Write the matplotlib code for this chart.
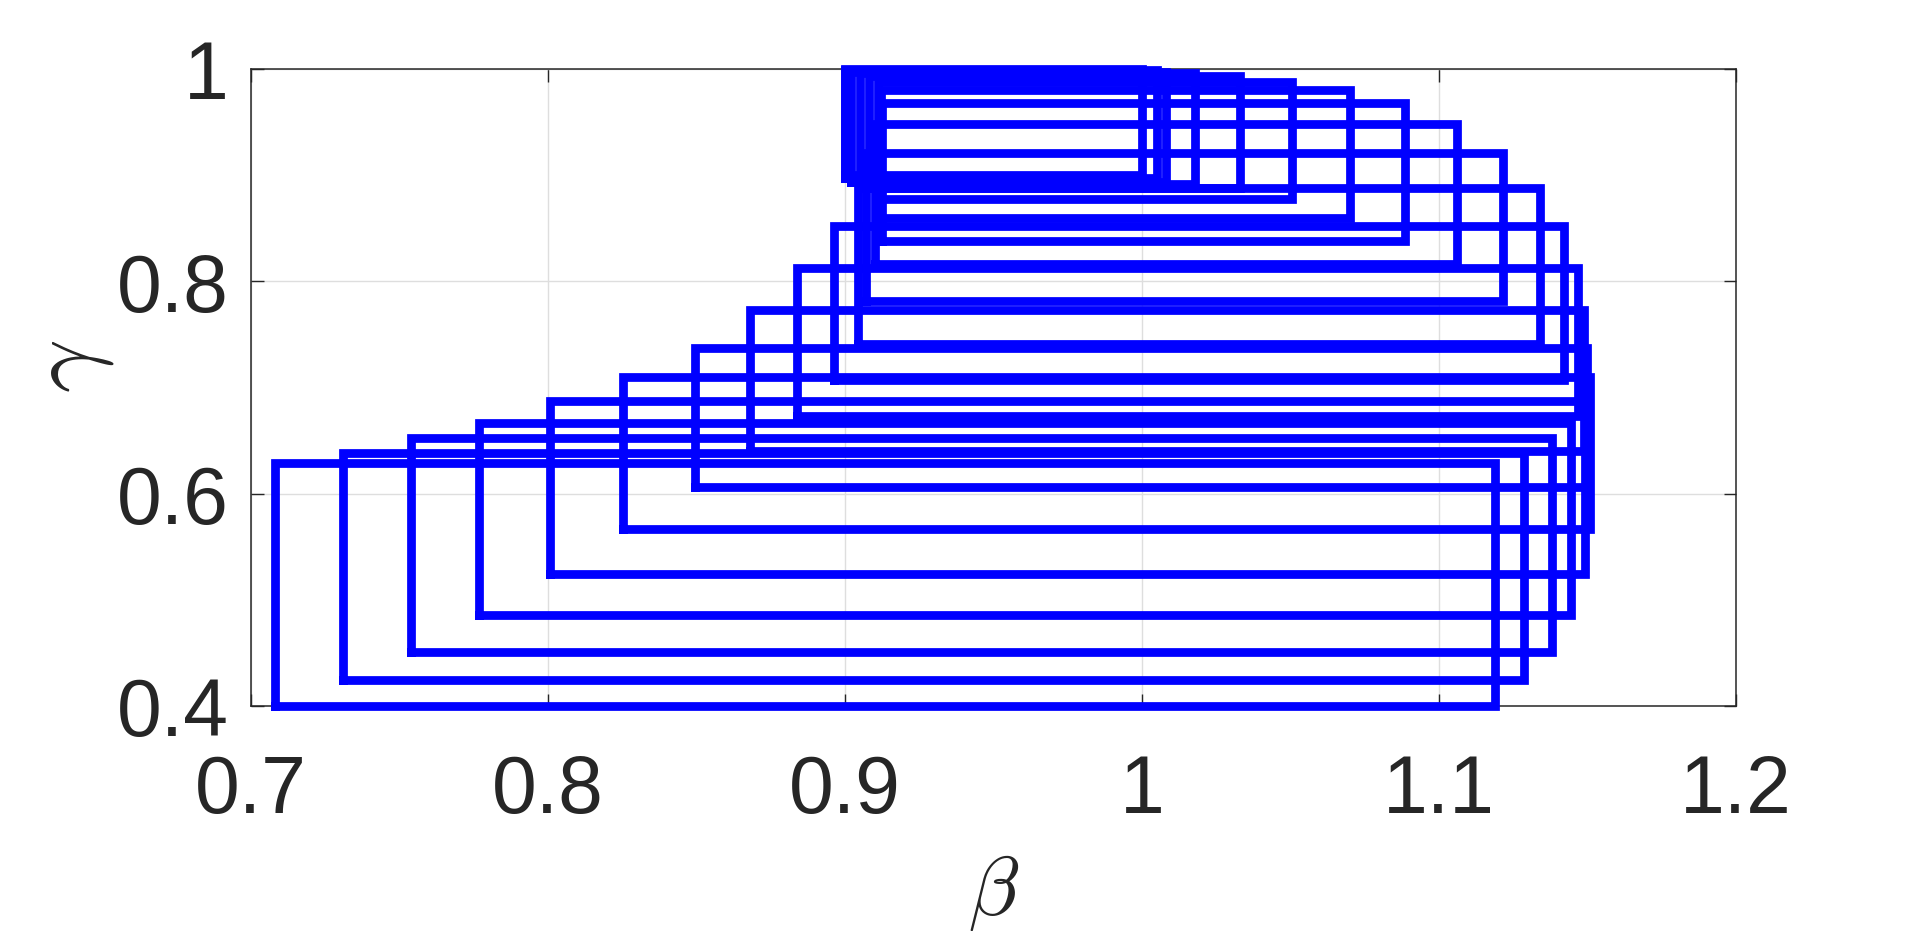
import matplotlib
matplotlib.use("Agg")
import matplotlib.pyplot as plt

# Rectangle bounds (beta range x gamma range), outermost to innermost
beta_lo = [0.708, 0.731, 0.754, 0.7768, 0.8007, 0.8253, 0.8496, 0.8682, 0.8838, 0.8963,
           0.9044, 0.907, 0.910, 0.9125, 0.912, 0.911, 0.908, 0.905, 0.902, 0.900, 0.900]
beta_hi = [1.119, 1.1287, 1.1382, 1.1444, 1.1493, 1.151, 1.150, 1.1489, 1.147, 1.142,
           1.134, 1.1217, 1.106, 1.0887, 1.070, 1.0506, 1.033, 1.018, 1.008, 1.005, 1.000]
gamma_lo = [0.400, 0.4243, 0.4508, 0.4854, 0.524, 0.567, 0.6066, 0.640, 0.6735, 0.707,
            0.741, 0.781, 0.8165, 0.838, 0.860, 0.878, 0.888, 0.892, 0.894, 0.897, 0.900]
gamma_hi = [0.629, 0.638, 0.652, 0.667, 0.687, 0.710, 0.737, 0.7727, 0.813, 0.852,
            0.888, 0.921, 0.948, 0.968, 0.980, 0.988, 0.993, 0.996, 0.9975, 0.999, 1.000]

xticks = [0.7, 0.8, 0.9, 1.0, 1.1, 1.2]
xticklabels = ["0.7", "0.8", "0.9", "1", "1.1", "1.2"]
yticks = [0.4, 0.6, 0.8, 1.0]
yticklabels = ["0.4", "0.6", "0.8", "1"]

plt.rcParams['mathtext.fontset'] = 'cm'
fig = plt.figure(figsize=(19.2, 9.37), dpi=100)
ax = fig.add_axes([0.1307, 0.2455, 0.7734, 0.6798])

for b0, b1, g0, g1 in zip(beta_lo, beta_hi, gamma_lo, gamma_hi):
    ax.plot([b0, b1, b1, b0, b0], [g0, g0, g1, g1, g0], color=(0, 0, 1),
            lw=6.3, clip_on=False, solid_joinstyle='miter', zorder=3)

ax.set_xlim(0.7, 1.2)
ax.set_ylim(0.4, 1.0)
ax.set_xticks(xticks)
ax.set_xticklabels(xticklabels)
ax.set_yticks(yticks)
ax.set_yticklabels(yticklabels)
ax.grid(True, color='#dedede', lw=1.0, zorder=0)
ax.set_axisbelow(True)

for s in ax.spines.values():
    s.set_color('#262626')
    s.set_linewidth(1.1)

ax.tick_params(direction='in', length=9, width=1.0, colors='#262626',
               top=True, right=True, labelsize=58)
ax.tick_params(axis='x', pad=34)
ax.tick_params(axis='y', pad=16)
for lab in ax.get_xticklabels() + ax.get_yticklabels():
    lab.set_fontfamily('Liberation Sans')
    lab.set_color('#262626')

ax.set_xlabel(r'$\beta$', fontsize=60, color='#262626')
ax.set_ylabel(r'$\gamma$', fontsize=68, color='#262626')
ax.xaxis.set_label_coords(0.5, -0.228)
ax.yaxis.set_label_coords(-0.091, 0.534)

fig.savefig('out.png', dpi=100)
